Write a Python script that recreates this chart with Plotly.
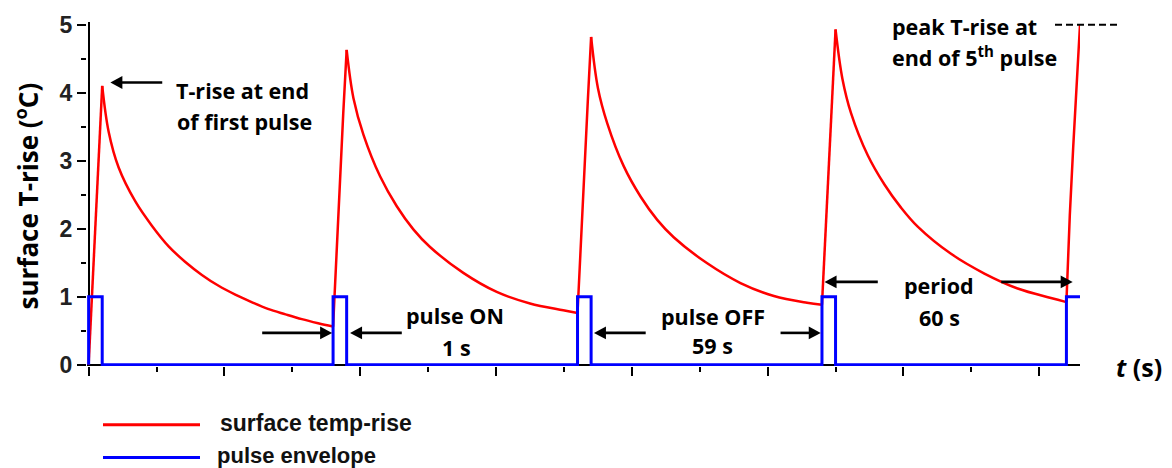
import plotly.graph_objects as go

# ---- pulse envelope (time in s, schematic scale) ----
pulse_start = [0, 18, 36, 54, 72]
pulse_width = 1
pulse_level = 1
axis_end = 73

# ---- surface temperature rise, one list pair per heating/cooling cycle ----
cycle1_t = [0, 0.25, 0.5, 0.75, 1.0, 1.47, 2.21, 3.44, 4.67, 5.89, 7.12, 8.34, 9.57, 10.8, 12.0, 13.2, 14.5, 15.7, 16.9, 18.0]
cycle1_v = [0, 1.05, 2.0, 3.0, 4.1, 3.43, 2.90, 2.40, 2.04, 1.74, 1.51, 1.32, 1.16, 1.03, 0.92, 0.82, 0.74, 0.67, 0.61, 0.56]

cycle2_t = [18.25, 18.5, 18.75, 19.0, 19.5, 20.24, 21.46, 22.69, 23.91, 25.14, 27.59, 30.05, 32.5, 34.95, 36.0]
cycle2_v = [1.65, 2.7, 3.7, 4.63, 3.92, 3.38, 2.77, 2.33, 1.99, 1.73, 1.35, 1.07, 0.90, 0.80, 0.76]

cycle3_t = [36.25, 36.5, 36.75, 37.0, 37.5, 38.19, 39.4, 40.65, 41.87, 43.1, 45.55, 48.0, 50.46, 52.9, 54.0]
cycle3_v = [1.85, 2.85, 3.85, 4.82, 4.07, 3.55, 2.92, 2.47, 2.13, 1.87, 1.49, 1.20, 1.01, 0.91, 0.88]

cycle4_t = [54.25, 54.5, 54.75, 55.0, 55.5, 56.14, 57.37, 58.6, 59.82, 61.05, 63.5, 65.96, 68.41, 70.86, 72.0]
cycle4_v = [1.95, 3.0, 4.0, 4.93, 4.21, 3.70, 3.08, 2.65, 2.31, 2.03, 1.63, 1.34, 1.12, 0.98, 0.92]

cycle5_t = [72.25, 72.5, 72.75, 73.0]
cycle5_v = [2.2, 3.2, 4.1, 5.0]

y_ticks = [0, 1, 2, 3, 4, 5]
y_tick_text = ["0", "1", "2", "3", "4", "5"]

cycles = [(cycle1_t, cycle1_v), (cycle2_t, cycle2_v), (cycle3_t, cycle3_v),
          (cycle4_t, cycle4_v), (cycle5_t, cycle5_v)]

# rectangular pulse train
env_t, env_v = [], []
for s in pulse_start:
    env_t += [s, s]
    env_v += [0, pulse_level]
    end = s + pulse_width
    if end >= axis_end:
        env_t.append(axis_end)
        env_v.append(pulse_level)
        break
    env_t += [end, end]
    env_v += [pulse_level, 0]

RED = "#ff0000"
BLUE = "#0000ff"

fig = go.Figure()

# heating ramps drawn straight, cooling tails drawn as smooth curves
prev = None
for ct, cv in cycles:
    k = cv.index(max(cv))
    rise_t = ([prev[0]] if prev else []) + ct[:k + 1]
    rise_v = ([prev[1]] if prev else []) + cv[:k + 1]
    fig.add_trace(go.Scatter(x=rise_t, y=rise_v, mode="lines", name="surface temp-rise",
                             line=dict(color=RED, width=2.5), showlegend=False))
    if k < len(ct) - 1:
        fig.add_trace(go.Scatter(x=ct[k:], y=cv[k:], mode="lines", name="surface temp-rise",
                                 line=dict(color=RED, width=2.5, shape="spline", smoothing=1.0),
                                 showlegend=False))
    prev = (ct[-1], cv[-1])

fig.add_trace(go.Scatter(x=env_t, y=env_v, mode="lines", name="pulse envelope",
                         line=dict(color=BLUE, width=3), showlegend=False))

L, R, T, B = 87, 92, 20, 102
W, H = 1172, 468
pw, ph = W - L - R, H - T - B
X0, X1 = -0.12, axis_end
Y0, Y1 = -0.02, 5.04
sx = pw / (X1 - X0)   # px per second
sy = ph / (Y1 - Y0)   # px per degree


def px_x(px):
    return (px - L) / pw


def px_y(py):
    return (H - B - py) / ph


label_font = dict(family="Open Sans", size=21.5, color="black", weight="bold")

annotations = []
shapes = []


def text(x, y, s, xanchor="center", xref="x", yref="y", font=label_font, **kw):
    annotations.append(dict(x=x, y=y, xref=xref, yref=yref, text=s, showarrow=False,
                            xanchor=xanchor, yanchor="middle", font=font, **kw))


def arrow(x_tip, y, x_tail, head_len=12, head_half=6.5, width=2.6):
    d = 1 if x_tip > x_tail else -1
    x_base = x_tip - d * head_len / sx
    shapes.append(dict(type="line", xref="x", yref="y", x0=x_tail, x1=x_base + d * 1 / sx,
                       y0=y, y1=y, line=dict(color="black", width=width)))
    hh = head_half / sy
    shapes.append(dict(type="path", xref="x", yref="y",
                       path=f"M{x_tip},{y} L{x_base},{y + hh} L{x_base},{y - hh} Z",
                       fillcolor="black", line=dict(width=0)))


# callouts
text(6.31, 4.03, "T-rise at end", xanchor="left")
text(6.38, 3.58, "of first pulse", xanchor="left")
arrow(1.6, 4.15, 5.42)

text(26.98, 0.716, "pulse ON")
text(27.06, 0.248, "1 s")
arrow(17.93, 0.467, 12.78)
arrow(19.25, 0.467, 23.06)

text(45.97, 0.708, "pulse OFF")
text(45.97, 0.285, "59 s")
arrow(37.21, 0.467, 41.02)
arrow(53.91, 0.467, 50.95)

text(62.63, 1.169, "period")
text(62.63, 0.694, "60 s")
arrow(54.19, 1.217, 58.11)
arrow(72.46, 1.217, 67.2)

text(58.99, 4.98, "peak T-rise at", xanchor="left")
text(58.99, 4.535, "end of 5<sup>th</sup> pulse", xanchor="left")

# axis titles
text(px_x(1139), px_y(367), "<i>t</i> (s)", xref="paper", yref="paper",
     font=dict(family="Open Sans", size=25, color="black", weight="bold"))
text(px_x(27.5), px_y(195), "surface T-rise (<sup>o</sup>C)", xref="paper", yref="paper",
     font=dict(family="Open Sans", size=26, color="black", weight="bold"), textangle=-90)

# legend
legend_font = dict(family="Liberation Sans", size=23, color="#111", weight="bold")
text(px_x(218), px_y(423), "surface temp-rise", xanchor="left", xref="paper", yref="paper", font=legend_font)
text(px_x(215), px_y(456), "pulse envelope", xanchor="left", xref="paper", yref="paper",
     font=dict(legend_font, size=22))

shapes += [
    dict(type="line", xref="paper", yref="paper", x0=px_x(103), x1=px_x(200), y0=px_y(425), y1=px_y(425),
         line=dict(color=RED, width=3)),
    dict(type="line", xref="paper", yref="paper", x0=px_x(103), x1=px_x(200), y0=px_y(458), y1=px_y(458),
         line=dict(color=BLUE, width=3)),
    # dashed marker level for the final peak
    dict(type="line", xref="paper", yref="paper", x0=px_x(1055), x1=px_x(1117), y0=px_y(22.7), y1=px_y(22.7),
         line=dict(color="black", width=2, dash="7px,4px")),
]

fig.update_layout(
    width=W, height=H,
    margin=dict(l=L, r=R, t=T, b=B, pad=0),
    paper_bgcolor="white", plot_bgcolor="white",
    showlegend=False,
    annotations=annotations,
    shapes=shapes,
    xaxis=dict(range=[X0, X1], showgrid=False, showline=False,
               zeroline=True, zerolinecolor="black", zerolinewidth=2,
               ticks="outside", tick0=0, dtick=10, ticklen=9, tickwidth=2, tickcolor="black",
               showticklabels=False,
               minor=dict(ticks="outside", tick0=0, dtick=5, ticklen=5, tickwidth=2,
                          tickcolor="black", showgrid=False)),
    yaxis=dict(range=[Y0, Y1], showgrid=False, showline=False,
               zeroline=True, zerolinecolor="black", zerolinewidth=2,
               ticks="outside", tickmode="array", tickvals=y_ticks, ticktext=y_tick_text,
               ticklen=9, tickwidth=2, tickcolor="black",
               tickfont=dict(family="Liberation Sans", size=23, color="#222", weight="bold"),
               minor=dict(ticks="outside", tickvals=[0.5, 1.5, 2.5, 3.5, 4.5], ticklen=5, tickwidth=2,
                          tickcolor="black", showgrid=False)),
)

fig.write_html("out.html")
